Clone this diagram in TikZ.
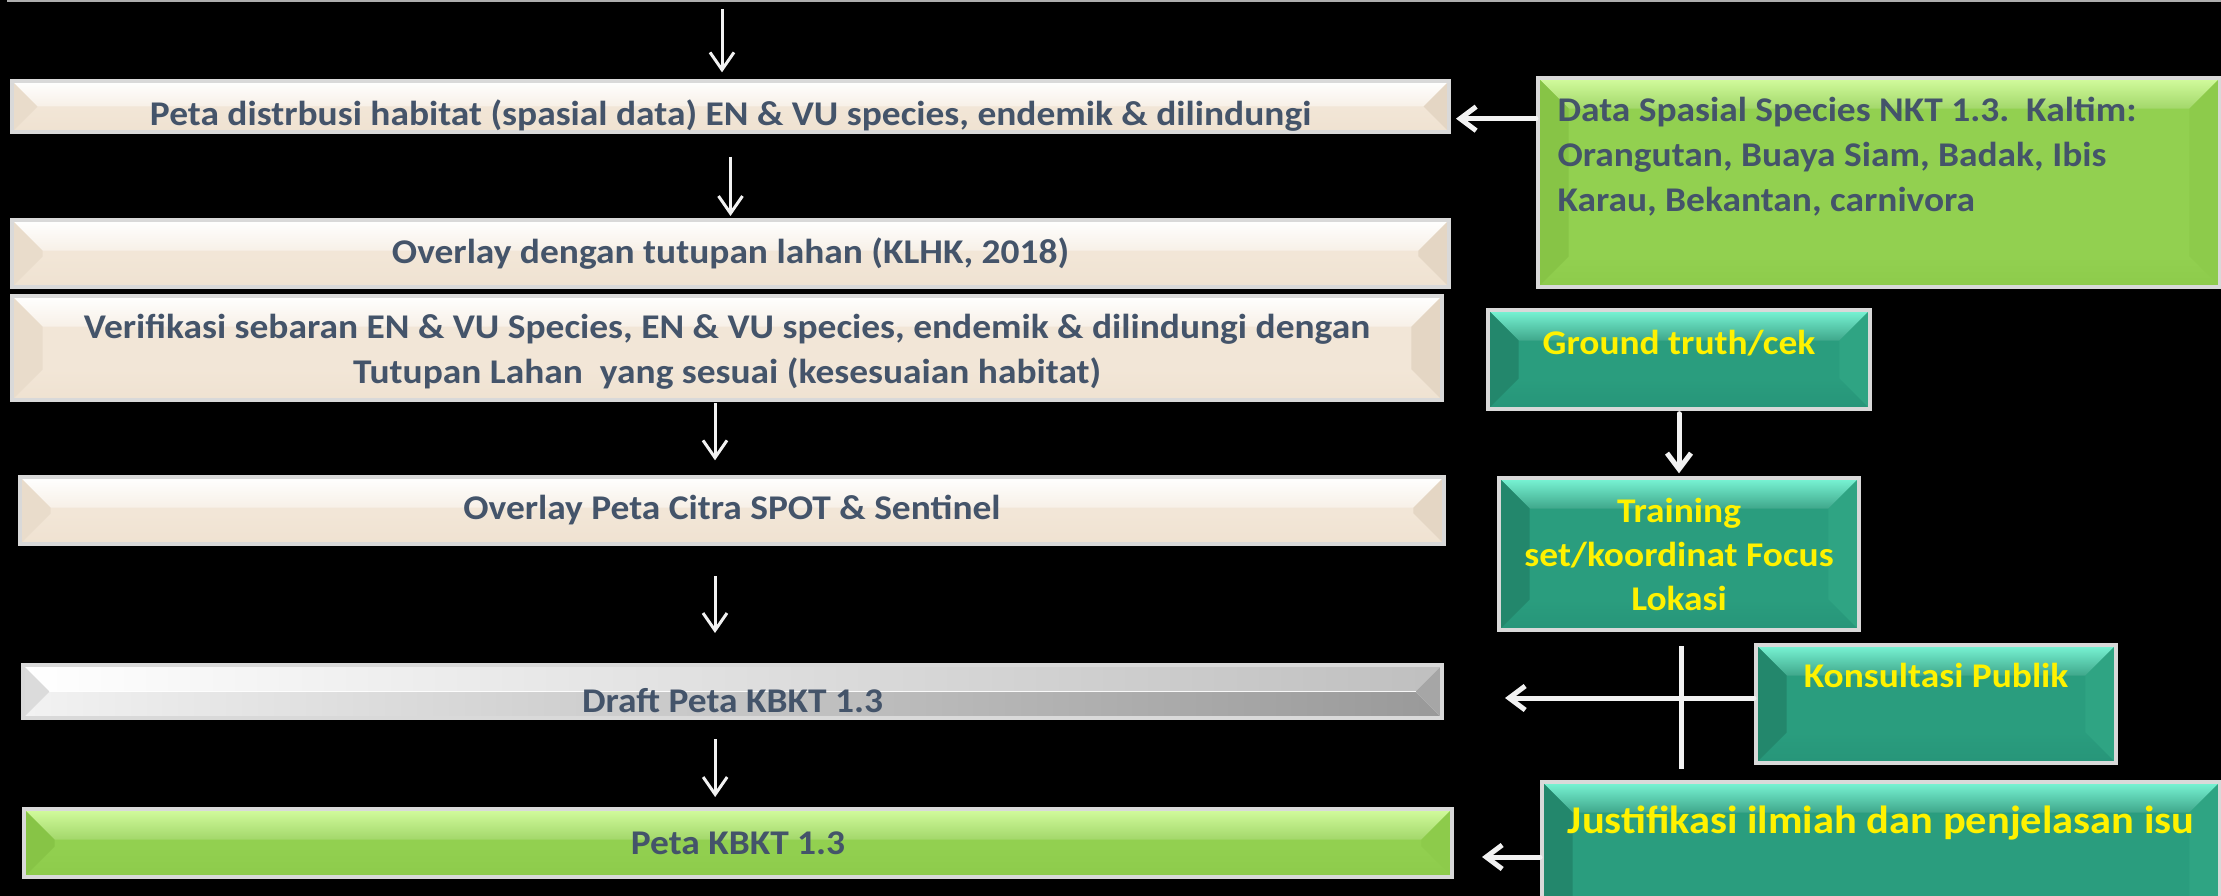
\documentclass[tikz,border=0pt]{standalone}
\usepackage{fontspec}
\setmainfont[FakeStretch=1.08]{Carlito}
\usetikzlibrary{positioning,arrows.meta}

\definecolor{slate}{HTML}{44546A}
\definecolor{rim}{HTML}{D9D9D9}
\definecolor{arrowwhite}{HTML}{F2F2F2}
\definecolor{beige}{HTML}{F2E6D7}
\definecolor{beigeL}{HTML}{E9DCCB}
\definecolor{beigeR}{HTML}{E4D6C4}
\definecolor{beigeB}{HTML}{EFE2D1}
\definecolor{lime}{HTML}{92D050}
\definecolor{limetop}{HTML}{D3FC9E}
\definecolor{limeL}{HTML}{87C446}
\definecolor{limeR}{HTML}{8DCB4B}
\definecolor{teal}{HTML}{2A9D7E}
\definecolor{tealtop}{HTML}{7AF6D6}
\definecolor{tealL}{HTML}{23876C}
\definecolor{tealR}{HTML}{2FA483}
\definecolor{tealB}{HTML}{279579}

\tikzset{every picture/.style={line width=0.75pt}}
\tikzset{
  bevel depth/.store in=\bevd, bevel depth=23pt,
  % face, top facet, left facet, right facet, bottom facet
  bevelbox/.style n args={5}{draw=rim, line width=3pt, fill=#1, inner sep=0pt, anchor=north west,
    path picture={
      \path (path picture bounding box.south west) coordinate (p1)
            (path picture bounding box.north west) coordinate (p2)
            (path picture bounding box.north east) coordinate (p3)
            (path picture bounding box.south east) coordinate (p4);
      \shade[#5] (p1) -- (p4) -- ([xshift=-\bevd,yshift=\bevd]p4) -- ([xshift=\bevd,yshift=\bevd]p1) -- cycle;
      \shade[#2] (p2) -- (p3) -- ([xshift=-\bevd,yshift=-\bevd]p3) -- ([xshift=\bevd,yshift=-\bevd]p2) -- cycle;
      \fill[#3] (p1) -- (p2) -- ([xshift=\bevd,yshift=-\bevd]p2) -- ([xshift=\bevd,yshift=\bevd]p1) -- cycle;
      \fill[#4] (p4) -- (p3) -- ([xshift=-\bevd,yshift=-\bevd]p3) -- ([xshift=-\bevd,yshift=\bevd]p4) -- cycle;
    }},
  beigebox/.style={bevelbox={beige}{top color=white,bottom color=beige!60!white}{beigeL}{beigeR}{top color=beige,bottom color=beigeB}},
  draftbox/.style={bevelbox={white}{left color=white,middle color=white,right color=black!25}{black!14}{black!35}{left color=black!5,right color=black!40}},
  limebox/.style={bevelbox={lime}{top color=limetop,bottom color=lime!85!white}{limeL}{limeR}{top color=lime,bottom color=limeR}},
  tealbox/.style={bevelbox={teal}{top color=tealtop,bottom color=teal!90!white}{tealL}{tealR}{top color=teal,bottom color=tealB}},
  darktxt/.style={font=\bfseries\fontsize{26}{33.75}\selectfont, text=slate, inner sep=0pt, align=center},
  yeltxt/.style={font=\bfseries\fontsize{26}{33}\selectfont, text=yellow, inner sep=0pt, align=center},
  thinarr/.style={draw=arrowwhite, line width=2.25pt, -{Straight Barb[length=13pt,width=18pt]}},
  thickarr/.style={draw=arrowwhite, line width=3.75pt, line cap=round, -{Straight Barb[length=12pt,width=18pt]}},
}

\begin{document}
\begin{tikzpicture}[x=0.75pt,y=0.75pt,yscale=-1,xscale=1]
\useasboundingbox (0,0) rectangle (2221,896);
\fill[black] (0,0) rectangle (2221,896);
%Straight Lines
\draw[rim!80!black, line width=1.5pt] (7,1) -- (2221,1);

%Shape: Rectangle
\node[beigebox, bevel depth=19pt, minimum width=1077.75pt, minimum height=38.25pt] (distr) at (10,79) {};
\node[beigebox, minimum width=1077.75pt, minimum height=50.25pt] (overlay) at (10,218) {};
\node[beigebox, minimum width=1072.5pt, minimum height=78pt] (verif) at (10,294) {};
\node[beigebox, minimum width=1068pt, minimum height=50.25pt] (citra) at (18,475) {};
\node[draftbox, bevel depth=19.5pt, minimum width=1064.25pt, minimum height=39.75pt] (draft) at (21,663) {};
\node[limebox, minimum width=1071pt, minimum height=51pt] (kbkt) at (22,807) {};
%Shape: Rectangle
\node[limebox, minimum width=511.5pt, minimum height=156.75pt] (spasial) at (1536,76) {};
\node[tealbox, minimum width=286.5pt, minimum height=74.25pt] (ground) at (1486,308) {};
\node[tealbox, minimum width=270pt, minimum height=114pt] (training) at (1497,476) {};
\node[tealbox, minimum width=270pt, minimum height=88.5pt] (konsul) at (1754,643) {};
\node[tealbox, minimum width=508.5pt, minimum height=127.5pt] (justif) at (1540,780) {};

% Text Node
\node[darktxt] (distr-t) at ([yshift=7pt]distr.center) {Peta distrbusi habitat (spasial data) EN \& VU species, endemik \& dilindungi};
\node[darktxt] (overlay-t) at (overlay.center) {Overlay dengan tutupan lahan (KLHK, 2018)};
\node[darktxt] (verif-t) at ([yshift=3pt]verif.center) {Verifikasi sebaran EN \& VU Species, EN \& VU species, endemik \& dilindungi dengan\\ Tutupan Lahan~~yang sesuai (kesesuaian habitat)};
\node[darktxt] (citra-t) at (citra.center) {Overlay Peta Citra SPOT \& Sentinel};
\node[darktxt] (draft-t) at ([yshift=7pt]draft.center) {Draft Peta KBKT 1.3};
\node[darktxt] (kbkt-t) at (kbkt.center) {Peta KBKT 1.3};
% Text Node
\node[darktxt, align=left, anchor=north west, below right=15.75pt and 15.75pt of spasial.north west] (spasial-t) {Data Spasial Species NKT 1.3.~~Kaltim:\\ Orangutan, Buaya Siam, Badak, Ibis\\ Karau, Bekantan, carnivora};
\node[yeltxt, below=16.5pt of ground.north] (ground-t) {Ground truth/cek};
\node[yeltxt, below=16.5pt of training.north] (training-t) {Training\\ set/koordinat Focus\\ Lokasi};
\node[yeltxt, below=15pt of konsul.north] (konsul-t) {Konsultasi Publik};
\node[yeltxt, font=\bfseries\fontsize{29.5}{35}\selectfont, below=18.75pt of justif.north] (justif-t) {Justifikasi ilmiah dan penjelasan isu};

%Straight Lines
\coordinate (start) at (722,9);
\draw[thinarr, shorten >=5pt] (start) -- (start |- distr.north);
\draw[thinarr, shorten <=17pt, shorten >=1.5pt] (distr.south) -- (distr.south |- overlay.north);
\draw[thinarr, shorten <=0.75pt, shorten >=11pt] ([xshift=-9pt]verif.south) -- ([xshift=-9pt]verif.south |- citra.north);
\draw[thinarr, shorten <=22.5pt, shorten >=22.5pt] ([xshift=-12.75pt]citra.south) -- ([xshift=-12.75pt]citra.south |- draft.north);
\draw[thinarr, shorten <=14.25pt, shorten >=7.5pt] ([xshift=-13pt]draft.south) -- ([xshift=-13pt]draft.south |- kbkt.north);
%Straight Lines
\draw[thickarr, shorten >=3.75pt] ([yshift=32pt]spasial.north west) -- ([yshift=32pt]spasial.north west -| distr.east);
\draw[thickarr, shorten <=2pt, shorten >=2pt] (ground.south) -- (training.north);
\draw[draw=arrowwhite, line width=3.75pt] ([xshift=1.5pt,yshift=10.5pt]training.south) -- ++(0,123);
\draw[thickarr, shorten >=45.75pt] ([yshift=-4.5pt]konsul.west) -- ([yshift=-4.5pt]konsul.west -| draft.east);
\draw[thickarr, shorten >=21pt] ([yshift=57.75pt]justif.north west) -- ([yshift=57.75pt]justif.north west -| kbkt.east);

\end{tikzpicture}
\end{document}
